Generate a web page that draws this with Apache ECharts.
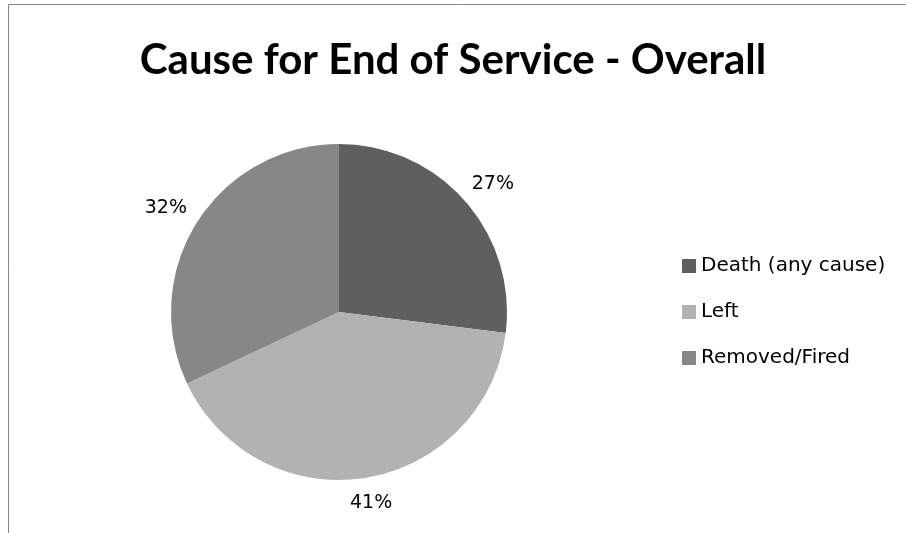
<!DOCTYPE html>
<html>
<head>
<meta charset="utf-8">
<script src="https://cdn.jsdelivr.net/npm/echarts@6/dist/echarts.min.js"></script>
<style>
html,body{margin:0;padding:0;background:#fff;}
#chart{width:906px;height:533px;}
</style>
</head>
<body>
<div id="chart"></div>
<script>
const titleText = 'Cause for End of Service - Overall';
const categories = ['Death (any cause)', 'Left', 'Removed/Fired'];
const percentValues = [27, 41, 32];
const sliceColors = ['#5f5f5f', '#b2b2b2', '#878787'];

const PIE_CX = 339, PIE_CY = 312, PIE_R = 168, LABEL_GAP = 16;
const chart = echarts.init(document.getElementById('chart'), null, {renderer: 'canvas'});
const titleFont = 'Lato, "Open Sans", sans-serif';
const bodyFont = '"DejaVu Sans", "Open Sans", sans-serif';

const total = percentValues.reduce((a, b) => a + b, 0);
function midAngle(i) {
  let cum = 0;
  for (let k = 0; k < i; k++) cum += percentValues[k];
  const frac = (cum + percentValues[i] / 2) / total;
  return (90 - frac * 360) * Math.PI / 180;
}

chart.setOption({
  animation: false,
  backgroundColor: '#ffffff',
  title: {
    text: titleText,
    left: 'center',
    top: 34,
    textStyle: {fontFamily: titleFont, fontWeight: 'bold', fontSize: 42, color: '#000000'}
  },
  legend: {
    orient: 'vertical',
    left: 677,
    top: 251,
    itemWidth: 14,
    itemHeight: 14,
    itemGap: 26,
    icon: 'rect',
    data: categories,
    textStyle: {fontFamily: bodyFont, fontSize: 20, color: '#000000', lineHeight: 20}
  },
  graphic: [{
    type: 'rect',
    shape: {x: 8.5, y: 4.5, width: 1200, height: 1200},
    style: {fill: 'none', stroke: '#868686', lineWidth: 1},
    silent: true, z: -1
  }],
  series: [{
    type: 'pie',
    center: [PIE_CX, PIE_CY],
    radius: [0, PIE_R],
    startAngle: 90,
    clockwise: true,
    avoidLabelOverlap: false,
    data: categories.map((c, i) => ({name: c, value: percentValues[i], itemStyle: {color: sliceColors[i]}})),
    itemStyle: {borderWidth: 0},
    label: {
      show: true,
      position: 'outside',
      formatter: p => p.value + '%',
      fontFamily: bodyFont,
      fontSize: 19,
      color: '#000000'
    },
    labelLine: {show: false, length: 12, length2: 0},
    labelLayout: function (params) {
      const a = midAngle(params.dataIndex);
      const dx = Math.cos(a), dy = -Math.sin(a);
      const w = params.labelRect.width, h = params.labelRect.height;
      const d = PIE_R + LABEL_GAP;
      return {
        x: PIE_CX + dx * d + dx * w / 2,
        y: PIE_CY + dy * d + dy * h / 2,
        align: 'center',
        verticalAlign: 'middle'
      };
    },
    emphasis: {disabled: true}
  }]
});
</script>
</body>
</html>
